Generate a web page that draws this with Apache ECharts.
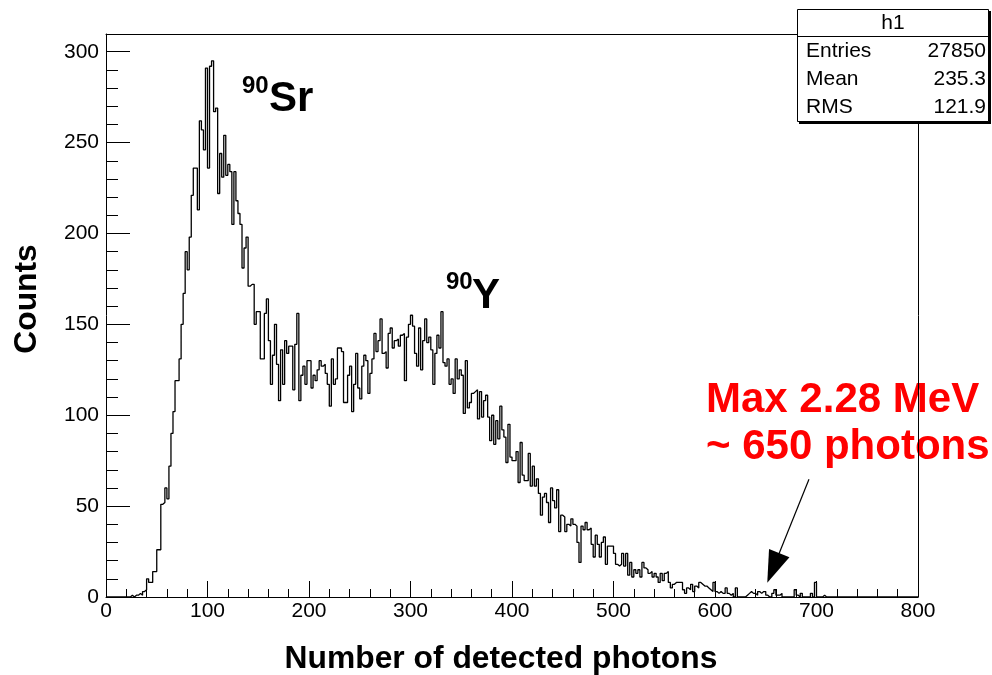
<!DOCTYPE html>
<html>
<head>
<meta charset="utf-8">
<script src="https://cdn.jsdelivr.net/npm/echarts@6/dist/echarts.min.js"></script>
<style>
html,body{margin:0;padding:0;background:#ffffff;}
#chart{width:992px;height:675px;}
</style>
</head>
<body>
<div id="chart"></div>
<script>
// ---------------- data ----------------
const histName = 'h1';
const binWidth = 2;
const xRange = [0, 800];
const yMax = 309.75;
const xTitle = 'Number of detected photons';
const yTitle = 'Counts';
const statLabels = ['Entries', 'Mean', 'RMS'];
const statValues = ['27850', '235.3', '121.9'];
const peakLabels = [{ iso: '90', el: 'Sr' }, { iso: '90', el: 'Y' }];
const noteLines = ['Max 2.28 MeV', '~ 650 photons'];

// counts per bin, bin k covers [2k, 2k+2)
const counts = [
  0,0,0,0,0,0,0,0,0,0,0,0,            // 0-24
  1,0,1,1,2,1,3,4,                    // 24-40
  10,8,8,14,14,26,26,51,52,60,        // 40-60
  54,72,90,102,119,119,131,150,167,190, // 60-80
  180,198,221,236,236,213,262,257,246,291, // 80-100
  236,292,295,267,269,222,244,231,254,232, // 100-120
  238,234,205,234,218,211,205,181,192,198, // 120-140
  171,172,172,150,157,157,131,131,156,164, // 140-160
  141,117,133,150,128,108,136,117,141,134, // 160-180
  138,138,114,139,156,108,122,127,117,130, // 180-200
  130,115,122,119,125,130,127,128,123,117, // 200-220
  105,131,117,120,137,137,135,107,107,122, // 220-240
  127,102,117,134,115,109,127,133,130,112, // 240-260
  123,131,145,135,141,153,134,135,126,145, // 260-280
  148,137,141,142,138,144,145,119,143,150, // 280-300
  155,149,134,127,148,125,141,153,140,143, // 300-320
  136,117,134,144,137,157,129,127,131,117, // 320-340
  120,112,131,120,125,122,101,130,104,107, // 340-360
  112,113,114,98,113,99,108,111,99,86,     // 360-380
  100,84,97,87,105,92,88,74,95,77,         // 380-400
  75,75,80,63,85,67,64,64,79,61,           // 400-420
  72,61,65,57,45,55,57,52,41,60,           // 420-440
  53,49,59,36,45,44,36,40,39,43,           // 440-460
  40,39,30,19,39,37,41,37,38,29,           // 460-480
  22,34,29,22,30,33,18,28,28,28,           // 480-500
  24,18,17,18,24,17,24,12,19,11,           // 500-520
  15,13,15,11,19,16,15,13,14,11,           // 520-540
  13,11,8,13,9,13,14,8,5,7,                // 540-560
  8,8,8,8,4,2,5,4,7,3,                     // 560-580
  6,5,8,7,6,6,5,4,3,8,                     // 580-600
  3,2,3,2,2,5,2,1,2,0,                     // 600-620
  5,0,0,0,0,1,2,3,2,2,                     // 620-640
  1,3,2,3,3,1,0,0,2,4,                     // 640-660
  1,1,2,0,0,0,0,0,0,4,                     // 660-680
  1,0,2,0,0,0,0,2,0,8,                     // 680-700
  0,0,0,1,0,0,0,0,0,0,                     // 700-720
  0,0,0,0,0,0,0,0,0,0,                     // 720-740
  0,0,0,0,0,0,0,0,0,0,                     // 740-760
  0,0,0,0,0,0,0,0,0,0,                     // 760-780
  0,0,0,0,0,0,0,0,0,0                      // 780-800
];

// ---------------- build ----------------
const histPoints = counts.map((c, k) => [xRange[0] + k * binWidth, c]);
histPoints.push([xRange[1], counts[counts.length - 1]]);

const FONT = 'Liberation Sans';
const chart = echarts.init(document.getElementById('chart'), null, { renderer: 'canvas' });

const statGraphics = [];
statGraphics.push({
  type: 'rect', z: 20,
  shape: { x: 799, y: 11, width: 192, height: 113 },
  style: { fill: '#000' }
});
statGraphics.push({
  type: 'rect', z: 21,
  shape: { x: 797.5, y: 9.5, width: 191, height: 112 },
  style: { fill: '#fff', stroke: '#000', lineWidth: 1 }
});
statGraphics.push({
  type: 'line', z: 22,
  shape: { x1: 797.5, y1: 36.5, x2: 988.5, y2: 36.5 },
  style: { stroke: '#000', lineWidth: 1 }
});
statGraphics.push({
  type: 'text', z: 23, x: 893, y: 23,
  style: { text: histName, font: '21px "' + FONT + '"', fill: '#000', align: 'center', verticalAlign: 'middle' }
});
statLabels.forEach((lab, i) => {
  statGraphics.push({
    type: 'text', z: 23, x: 806, y: 51 + i * 28,
    style: { text: lab, font: '21px "' + FONT + '"', fill: '#000', align: 'left', verticalAlign: 'middle' }
  });
  statGraphics.push({
    type: 'text', z: 23, x: 986, y: 51 + i * 28,
    style: { text: statValues[i], font: '21px "' + FONT + '"', fill: '#000', align: 'right', verticalAlign: 'middle' }
  });
});

const labelPos = [
  { isoX: 242, isoY: 86, elX: 269, elY: 99 },
  { isoX: 446, isoY: 282, elX: 472, elY: 296 }
];
const peakGraphics = [];
peakLabels.forEach((p, i) => {
  const pos = labelPos[i];
  peakGraphics.push({
    type: 'text', z: 15, x: pos.isoX, y: pos.isoY,
    style: { text: p.iso, font: 'bold 24px "' + FONT + '"', fill: '#000', align: 'left', verticalAlign: 'middle' }
  });
  peakGraphics.push({
    type: 'text', z: 15, x: pos.elX, y: pos.elY,
    style: { text: p.el, font: 'bold 42px "' + FONT + '"', fill: '#000', align: 'left', verticalAlign: 'middle' }
  });
});

const noteGraphics = noteLines.map((t, i) => ({
  type: 'text', z: -1, x: 706, y: 400 + i * 47,
  style: { text: t, font: 'bold 42px "' + FONT + '"', fill: '#ff0000', align: 'left', verticalAlign: 'middle' }
}));

const titleGraphics = [
  {
    type: 'text', z: 15, x: 501, y: 659,
    style: { text: xTitle, font: 'bold 31.8px "' + FONT + '"', fill: '#000', align: 'center', verticalAlign: 'middle' }
  },
  {
    type: 'text', z: 15, x: 27, y: 299, rotation: Math.PI / 2,
    style: { text: yTitle, font: 'bold 31.8px "' + FONT + '"', fill: '#000', align: 'center', verticalAlign: 'middle' }
  }
];

const frameLine = { show: true, onZero: false, lineStyle: { color: '#000', width: 1 } };
const option = {
  backgroundColor: '#ffffff',
  animation: false,
  grid: {
    left: 106, right: 74, top: 34, bottom: 78,
    show: false, containLabel: false, outerBoundsMode: 'none'
  },
  xAxis: [
    {
      type: 'value', min: xRange[0], max: xRange[1], interval: 100, position: 'bottom',
      axisLine: frameLine,
      axisTick: { show: true, inside: true, length: 16, lineStyle: { color: '#000', width: 1 } },
      minorTick: { show: true, splitNumber: 5, length: 8, lineStyle: { color: '#000', width: 1 } },
      splitLine: { show: false },
      axisLabel: { color: '#000', fontSize: 21, fontFamily: FONT, margin: 4 }
    },
    {
      type: 'value', min: xRange[0], max: xRange[1], position: 'top',
      axisLine: frameLine, axisTick: { show: false }, axisLabel: { show: false }, splitLine: { show: false }
    }
  ],
  yAxis: [
    {
      type: 'value', min: 0, max: yMax, interval: 50, position: 'left',
      axisLine: frameLine,
      axisTick: { show: true, inside: true, length: 24, lineStyle: { color: '#000', width: 1 } },
      splitLine: { show: false },
      axisLabel: {
        color: '#000', fontSize: 21, fontFamily: FONT, margin: 7,
        formatter: v => (Math.abs(v % 50) < 1e-6 ? String(v) : '')
      }
    },
    {
      type: 'value', min: 0, max: yMax, interval: 10, position: 'left', offset: 0,
      axisLine: { show: false, onZero: false },
      axisTick: { show: true, inside: true, length: 12, lineStyle: { color: '#000', width: 1 } },
      splitLine: { show: false },
      axisLabel: { show: false }
    },
    {
      type: 'value', min: 0, max: yMax, position: 'right', offset: 0,
      axisLine: frameLine, axisTick: { show: false }, axisLabel: { show: false }, splitLine: { show: false }
    }
  ],
  series: [{
    type: 'line',
    name: histName,
    data: histPoints,
    xAxisIndex: 0,
    yAxisIndex: 0,
    step: 'end',
    showSymbol: false,
    symbol: 'none',
    z: 6,
    lineStyle: { color: '#000', width: 1.3 },
    markLine: {
      silent: true,
      symbol: ['none', 'triangle'],
      symbolSize: [22, 32],
      label: { show: false },
      lineStyle: { color: '#000', width: 1.2, type: 'solid' },
      itemStyle: { color: '#000' },
      data: [[{ coord: [692.6, 64.8] }, { coord: [657.4, 16.0] }]]
    }
  }],
  graphic: { elements: [].concat(noteGraphics, peakGraphics, titleGraphics, statGraphics) }
};

chart.setOption(option);
</script>
</body>
</html>
